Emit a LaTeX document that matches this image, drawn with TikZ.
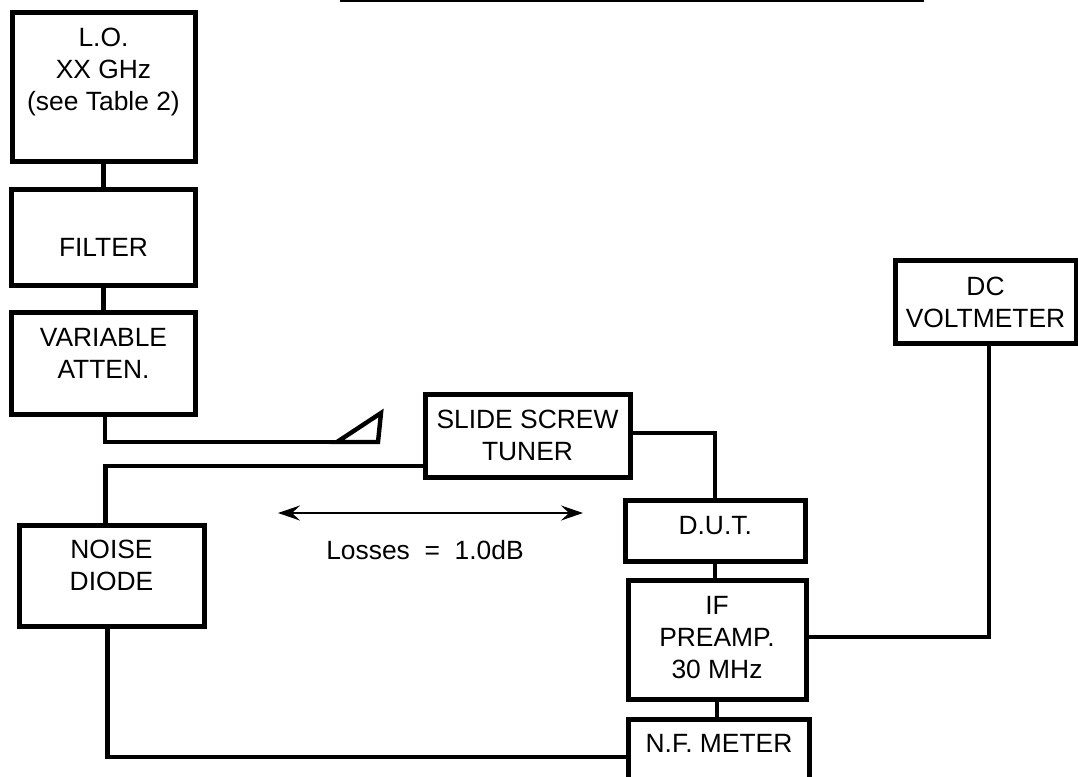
\documentclass[tikz,border=0pt]{standalone}
\usepackage{fontspec}
\setmainfont{Liberation Sans}
\usetikzlibrary{arrows.meta, positioning}

\begin{document}
\begin{tikzpicture}[
        x=1pt, y=-1pt,
        box/.style={rectangle, draw=black, line width=5pt, outer sep=0pt, inner sep=0pt,
                    align=center, font=\fontsize{26.4}{32}\selectfont},
        wire/.style={draw=black, line width=4.4pt, line join=miter},
        arrow/.style={{Stealth[length=22pt, width=15pt, inset=8pt]}-{Stealth[length=22pt, width=15pt, inset=8pt]}, line width=2pt}
    ]
        \useasboundingbox (0,0) rectangle (1078,776);

        \node[box, minimum width=183pt, minimum height=149pt, text depth=36pt] (lo) at (103.5,87) {L.O.\\XX GHz\\(see Table 2)};
        \node[box, minimum width=184pt, minimum height=96.5pt, text height=38pt, text depth=0pt, below=27.5pt of lo] (filter) {FILTER};
        \node[box, minimum width=184pt, minimum height=101.5pt, text depth=19pt, below=27pt of filter] (atten) {VARIABLE\\ATTEN.};
        \node[box, minimum width=205pt, minimum height=83pt] (tuner) at (527.5,435.5) {SLIDE SCREW\\TUNER};
        \node[box, minimum width=185pt, minimum height=101.5pt, text depth=20pt] (diode) at (111.5,575.75) {NOISE\\DIODE};
        \node[box, minimum width=180.5pt, minimum height=60.5pt, text depth=10pt] (dut) at (715.25,530.75) {D.U.T.};
        \node[box, minimum width=178pt, minimum height=118.5pt, text depth=4pt, below=19.5pt of dut, xshift=1.75pt] (preamp) {IF\\PREAMP.\\30 MHz};
        \node[box, minimum width=180.5pt, minimum height=76pt, text depth=27pt, below=20pt of preamp, xshift=2pt] (meter) {N.F. METER};
        \node[box, minimum width=181pt, minimum height=83pt] (volt) at (985.5,302) {DC\\VOLTMETER};
        \node[font=\fontsize{26.4}{32}\selectfont] (losses) at (425,550) {Losses~~=~~1.0dB};

        \coordinate (horn) at (337,442);
        \coordinate (hornb) at (378,442);
        \coordinate (hornt) at (381,413);
        \coordinate (lossl) at (278,513);
        \coordinate (lossr) at (583,513);
        \coordinate (rulel) at (340,1);
        \coordinate (ruler) at (924,1);

        \draw[wire] (lo) -- (filter);
        \draw[wire] (filter) -- (atten);
        \draw[wire] ([xshift=1.5pt]atten.south) |- (horn);
        \draw[wire] (horn) -- (hornt) -- (hornb) -- cycle;
        \draw[wire] ([yshift=-30.5pt]tuner.west) -| ([xshift=-6pt]diode.north);
        \draw[wire] ([yshift=2.5pt]tuner.east) -| (dut.north);
        \draw[wire] (dut.south) -- (dut.south |- preamp.north);
        \draw[wire] (preamp.south) -- (preamp.south |- meter.north);
        \draw[wire] ([xshift=-4pt]diode.south) |- (meter.west);
        \draw[wire] ([yshift=3pt]preamp.east) -| ([xshift=3.5pt]volt.south);
        \draw[arrow] (lossl) -- (lossr);
        \draw[line width=2.4pt] (rulel) -- (ruler);
    \end{tikzpicture}
\end{document}
